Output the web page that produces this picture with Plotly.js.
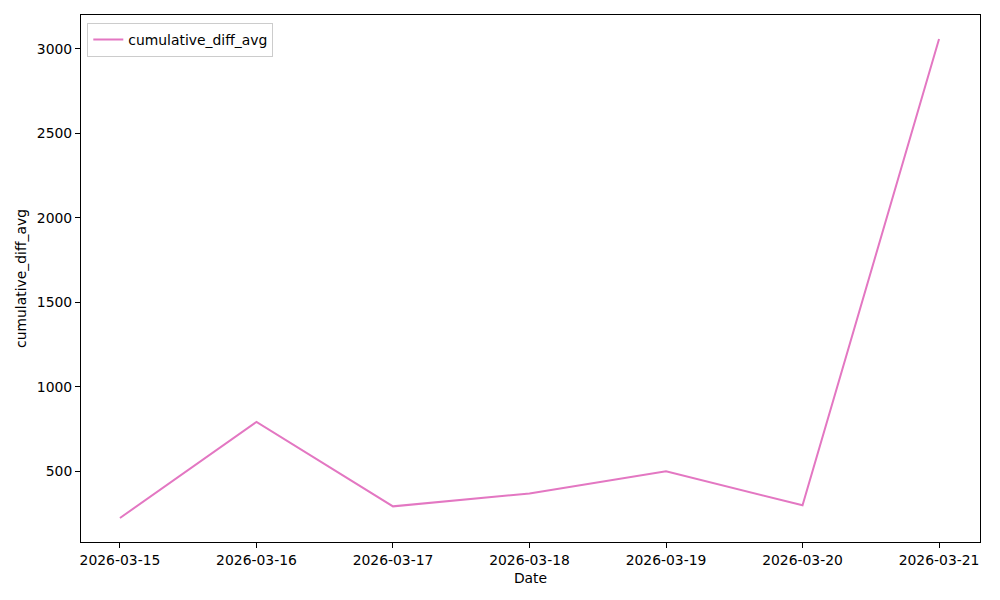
<!DOCTYPE html>
<html>
<head>
<meta charset="utf-8">
<script src="https://cdn.plot.ly/plotly-3.0.1.min.js"></script>
<style>html,body{margin:0;padding:0;background:#fff;}#chart{width:1000px;height:600px;}</style>
</head>
<body>
<div id="chart"></div>
<script>
const dates = ["2026-03-15","2026-03-16","2026-03-17","2026-03-18","2026-03-19","2026-03-20","2026-03-21"];
const cumulativeDiffAvg = [223, 792, 292, 368, 500, 298, 3058];
const tickLabels = dates;

const font = {family: "DejaVu Sans, sans-serif", size: 13.9, color: "#000"};
const trace = {
  x: dates, y: cumulativeDiffAvg, type: "scatter", mode: "lines",
  name: "cumulative_diff_avg", line: {color: "#e377c2", width: 2}
};
const layout = {
  width: 1000, height: 600,
  margin: {l: 81, r: 20, t: 15, b: 58},
  paper_bgcolor: "#fff", plot_bgcolor: "#fff",
  font: font,
  showlegend: true,
  legend: {x: 0.007, y: 0.985, xanchor: "left", yanchor: "top",
    bordercolor: "#cccccc", borderwidth: 1, bgcolor: "rgba(255,255,255,0.8)",
    font: {family: font.family, size: 13.9}},
  xaxis: {
    type: "date",
    range: ["2026-03-14 17:09", "2026-03-21 07:12"],
    tickmode: "array", tickvals: dates, ticktext: tickLabels,
    showline: true, linecolor: "#000", linewidth: 1, mirror: true,
    ticks: "outside", ticklen: 5, tickcolor: "#000",
    showgrid: false, zeroline: false,
    title: {text: "Date", font: font, standoff: 6}
  },
  yaxis: {
    range: [81, 3200],
    tickmode: "array", tickvals: [500, 1000, 1500, 2000, 2500, 3000],
    showline: true, linecolor: "#000", linewidth: 1, mirror: true,
    ticks: "outside", ticklen: 5, tickcolor: "#000",
    showgrid: false, zeroline: false,
    title: {text: "cumulative_diff_avg", font: font, standoff: 6}
  }
};
Plotly.newPlot("chart", [trace], layout, {displayModeBar: false, staticPlot: true});
</script>
</body>
</html>
